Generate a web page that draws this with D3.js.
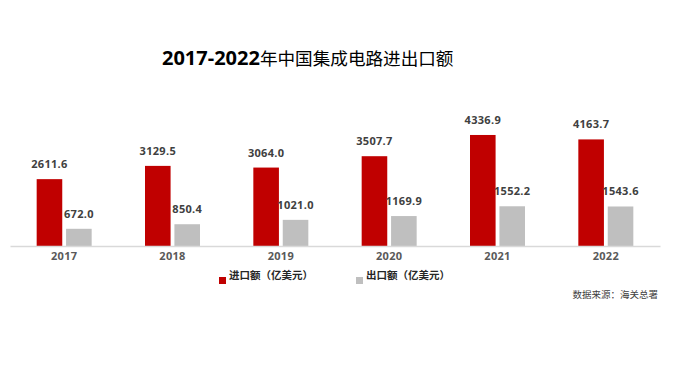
<!DOCTYPE html>
<html lang="zh">
<head>
    <meta charset="UTF-8">
    <script src="https://d3js.org/d3.v7.min.js"></script>
    <title>集成电路进出口额</title>
    <style>
        body { margin: 0; background: #fff; }
        text { font-family: 'Open Sans', 'Noto Sans CJK SC', sans-serif; }
        text.val { font-size: 11px; font-weight: bold; fill: #404040; text-anchor: middle; letter-spacing: 0.3px; }
        .axis text { font-size: 11px; font-weight: bold; fill: #595959; letter-spacing: 0.3px; }
        text.legend { font-size: 10.5px; font-weight: bold; fill: #262626; font-family: 'Noto Sans CJK SC', sans-serif; }
        text.source { font-size: 9.5px; fill: #404040; font-family: 'Noto Sans CJK SC', sans-serif; }
    </style>
</head>
<body>
<svg height="370" width="693"></svg>
<script>
    const years = ["2017", "2018", "2019", "2020", "2021", "2022"];
    const imports = [2611.6, 3129.5, 3064.0, 3507.7, 4336.9, 4163.7];
    const exports = [672.0, 850.4, 1021.0, 1169.9, 1552.2, 1543.6];
    const seriesNames = ["进口额（亿美元）", "出口额（亿美元）"];
    const colors = ["#c00000", "#bfbfbf"];

    const svg = d3.select("svg");

    const x = d3.scaleBand().domain(years).range([10, 660]).padding(0);
    const x1 = d3.scaleBand().domain([0, 1]).range([x.bandwidth() / 2 - 27.5, x.bandwidth() / 2 + 27.5]).paddingInner(0.13);
    const y = d3.scaleLinear().domain([0, 5000]).range([246, 118]);

    // title
    const title = svg.append("text").attr("x", 162).attr("y", 65)
            .style("font-size", "20px").style("fill", "#000");
    title.append("tspan").style("font-weight", "bold").text("2017-2022");
    title.append("tspan").style("font-family", "'Noto Sans CJK SC', sans-serif")
            .style("font-weight", "normal").style("font-size", "17.6px").text("年中国集成电路进出口额");

    const rows = years.map((yr, i) => ({year: yr, vals: [imports[i], exports[i]]}));

    const g = svg.selectAll("g.grp").data(rows).enter().append("g")
            .attr("class", "grp")
            .attr("transform", d => `translate(${x(d.year)},0)`);

    g.selectAll("rect").data(d => d.vals).enter().append("rect")
            .attr("x", (d, i) => x1(i))
            .attr("width", x1.bandwidth())
            .attr("y", d => y(d))
            .attr("height", d => y(0) - y(d))
            .style("fill", (d, i) => colors[i]);

    g.selectAll("text.val").data(d => d.vals).enter().append("text")
            .attr("class", "val")
            .attr("x", (d, i) => x1(i) + x1.bandwidth() / 2)
            .attr("y", d => y(d) - 11)
            .text(d => d.toFixed(1));

    // axis
    const axis = svg.append("g").attr("class", "axis")
            .attr("transform", `translate(0,${y(0)})`)
            .call(d3.axisBottom(x).tickSize(0).tickPadding(6));
    axis.select(".domain").attr("stroke", "#d9d9d9").attr("stroke-width", 1.5);

    // legend
    const legX = [219, 356];
    seriesNames.forEach((name, i) => {
        svg.append("rect").attr("x", legX[i]).attr("y", 277)
                .attr("width", 7).attr("height", 7).style("fill", colors[i]);
        svg.append("text").attr("class", "legend")
                .attr("x", legX[i] + 10).attr("y", 279).text(name);
    });

    svg.append("text").attr("class", "source")
            .attr("x", 658).attr("y", 298).attr("text-anchor", "end")
            .text("数据来源：海关总署");
</script>
</body>
</html>
